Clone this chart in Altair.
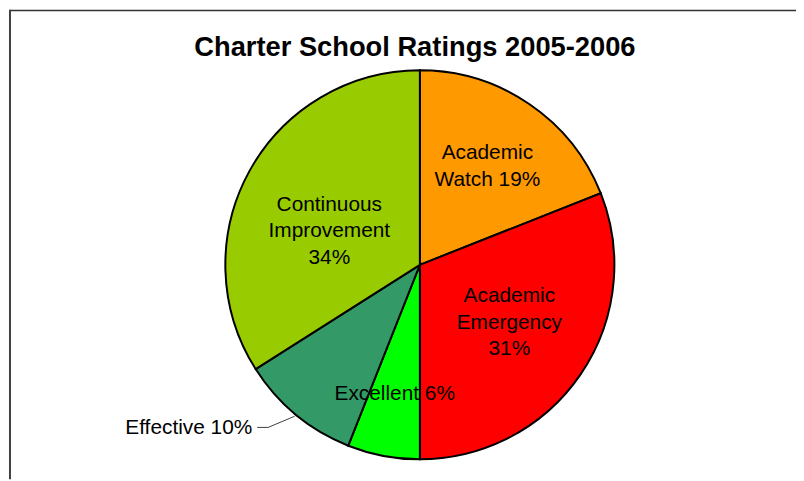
import math
import altair as alt
import pandas as pd

# ---- data ----
categories = ["Academic Watch", "Academic Emergency", "Excellent", "Effective", "Continuous Improvement"]
percents = [19, 31, 6, 10, 34]
label_texts = [["Academic", "Watch 19%"], ["Academic", "Emergency", "31%"], ["Excellent 6%"],
               ["Effective 10%"], ["Continuous", "Improvement", "34%"]]
colors = ["#FF9900", "#FF0000", "#00FF00", "#339966", "#99CC00"]
title_text = "Charter School Ratings 2005-2006"

df = pd.DataFrame({
    "category": categories,
    "value": percents,
    "order": list(range(len(categories))),
    "label": label_texts,
})

# ---- geometry (chart coords; page origin offset 8px) ----
CX, CY, R = 415, 257, 196
W, H = 794, 473
FONT = "Liberation Sans"
FS, LH = 21, 26.5

theta = alt.Theta("value:Q", stack=True, scale=alt.Scale(domain=[0, sum(percents)]))
order = alt.Order("order:Q", sort="ascending")
color = alt.Color("category:N", scale=alt.Scale(domain=categories, range=colors), legend=None)

base = alt.Chart(df)

pie = base.mark_arc(stroke="black", strokeWidth=2, radius=R).encode(
    theta=theta, order=order, color=color,
    x=alt.value(CX), y=alt.value(CY),
)

# label placement (radius, dx, dy, align); dy is the block centre offset
place = {
    "Academic Watch": (121, 0, 1, "center"),
    "Academic Emergency": (109, 0, -3, "center"),
    "Excellent": (130, -1, 2, "center"),
    "Effective": (210, -35, 3, "right"),
    "Continuous Improvement": (95, -8, 12, "center"),
}

layers = [pie]
for cat, lines in zip(categories, label_texts):
    r, dx, dy, al = place[cat]
    dy_block = dy - (len(lines) - 1) / 2 * LH
    layers.append(
        base.mark_text(radius=r, dx=dx, dy=dy_block, align=al, baseline="middle",
                       font=FONT, fontSize=FS, lineHeight=LH, color="black")
        .encode(theta=theta, order=order, text="label",
                x=alt.value(CX), y=alt.value(CY),
                opacity=alt.condition(alt.datum.category == cat, alt.value(1), alt.value(0)))
    )

# leader line for the "Effective" label, derived from the data values
idx = categories.index("Effective")
start = sum(percents[:idx]) + percents[idx] / 2
ang = 2 * math.pi * start / sum(percents)
rim = (CX + (R + 2) * math.sin(ang), CY - (R + 2) * math.cos(ang))
anchor = (CX + 210 * math.sin(ang), CY - 210 * math.cos(ang) + 2)
leader = pd.DataFrame({
    "x": [rim[0], anchor[0] - 19, anchor[0] - 30],
    "y": [rim[1], anchor[1], anchor[1]],
    "i": [0, 1, 2],
})
leader_line = alt.Chart(leader).mark_line(color="#404040", strokeWidth=1).encode(
    x=alt.X("x:Q", scale=None, axis=None),
    y=alt.Y("y:Q", scale=None, axis=None),
    order="i:Q",
)
layers.append(leader_line)

title = alt.Chart(pd.DataFrame({"t": [title_text]})).mark_text(
    font=FONT, fontSize=27.5, fontWeight="bold", align="center", baseline="alphabetic", color="black"
).encode(text="t:N", x=alt.value(410), y=alt.value(46.5))
layers.append(title)

frame_top = alt.Chart(pd.DataFrame({"a": [0]})).mark_rule(color="#333333", strokeWidth=1.5).encode(
    x=alt.value(1.5), x2=alt.value(W), y=alt.value(0.75))
frame_left = alt.Chart(pd.DataFrame({"a": [0]})).mark_rule(color="#404040", strokeWidth=2).encode(
    x=alt.value(2), y=alt.value(0), y2=alt.value(H))
layers += [frame_top, frame_left]

chart = alt.layer(*layers).properties(
    width=W, height=H, autosize=alt.AutoSizeParams(type="none"), padding=0,
).configure_view(stroke=None)

chart.save("out.html", embed_options={"renderer": "svg", "actions": False})
